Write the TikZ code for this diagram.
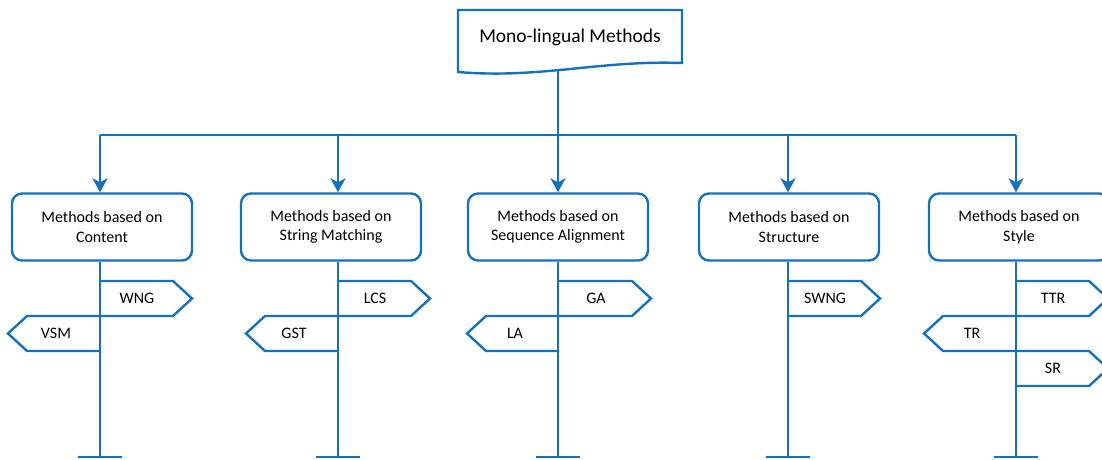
\documentclass[tikz,border=0pt]{standalone}
\usepackage{fontspec}
\setmainfont{Carlito}
\usetikzlibrary{arrows.meta}
\definecolor{lineblue}{RGB}{20,112,192}
\begin{document}
\begin{tikzpicture}[x=1pt,y=-1pt,
  line width=2.4pt,
  every node/.style={font=\fontsize{16}{19.5}\selectfont, text=black},
  catbox/.style={draw=lineblue, fill=white, rounded corners=10pt,
    minimum width=180pt, minimum height=67pt, align=center, inner sep=0pt},
  wire/.style={draw=lineblue, line width=2.4pt},
  down/.style={wire, -{Stealth[length=14pt,width=15pt,inset=4pt]}},
  signpath/.style={draw=lineblue, line width=2.4pt, line join=miter},
  signlabel/.style={inner sep=0pt},
  titlefont/.style={font=\fontsize{19.5}{23}\selectfont}
]
\useasboundingbox (0,0) rectangle (1102,460);

% document-shaped title box with a wavy lower edge
\draw[signpath] (458,10) -- (682,10) -- (682,63)
  .. controls (600,60) and (540,79) .. (458,72) -- cycle;
\node[titlefont, inner sep=0pt] (title) at (570,37) {Mono-lingual Methods};
\coordinate (titleout) at (558,71);

% category boxes
\node[catbox] (c1) at (102,227) {Methods based on\\Content};
\node[catbox] (c2) at (331,227) {Methods based on\\String Matching};
\node[catbox] (c3) at (558,227) {Methods based on\\Sequence Alignment};
\node[catbox] (c4) at (789,227) {Methods based on\\Structure};
\node[catbox] (c5) at (1019,227) {Methods based on\\Style};

% branch points on the trunk and foot of every post
\foreach \i/\x in {1/100, 2/338, 3/558, 4/788, 5/1016} {
  \coordinate (t\i) at (\x,135);
  \coordinate (e\i) at (\x,457);
}

% trunk and arrows into the categories
\draw[wire] (titleout) -- (t3);
\draw[wire] (t1) -- (t5);
\foreach \i in {1,...,5} {
  \draw[down] (t\i) -- (c\i.north -| t\i);
}

% sign posts with their crossbars
\foreach \i in {1,...,5} {
  \draw[wire] (e\i |- c\i.south) -- (e\i);
  \draw[wire] ([xshift=-22pt]e\i) -- ([xshift=22pt]e\i);
}

% signs pointing right: post, top edge
\foreach \n/\x/\y/\t in {wng/100/281/WNG, lcs/338/281/LCS, ga/559/281/GA,
                          swng/788/281/SWNG, ttr/1016/281/TTR, sr/1016/351/SR} {
  \draw[signpath] (\x,\y) -- ++(73,0) -- ++(19,17.5) -- ++(-19,17.5) -- ++(-73,0);
  \node[signlabel] (\n) at (\x+37,\y+17.5) {\t};
}

% signs pointing left: post, top edge
\foreach \n/\x/\y/\t in {vsm/100/316/VSM, gst/338/316/GST, la/559/316/LA,
                          tr/1016/316/TR} {
  \draw[signpath] (\x,\y) -- ++(-73,0) -- ++(-19,17.5) -- ++(19,17.5) -- ++(73,0);
  \node[signlabel] (\n) at (\x-44,\y+17.5) {\t};
}
\end{tikzpicture}
\end{document}
